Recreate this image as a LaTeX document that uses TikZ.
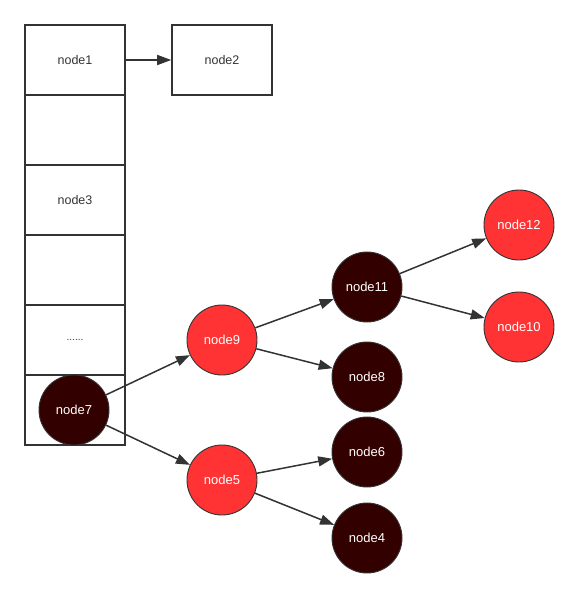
\documentclass[tikz,border=0pt]{standalone}
\usepackage{fontspec}
\setmainfont{Liberation Sans}
\usetikzlibrary{arrows.meta}
\definecolor{ln}{HTML}{333333}
\definecolor{redf}{HTML}{FF3333}
\definecolor{darkf}{HTML}{330000}
\begin{document}
\begin{tikzpicture}[x=1pt,y=-1pt,
  cell/.style={draw=ln,line width=1.6pt,minimum width=100pt,minimum height=70pt,inner sep=0pt,anchor=center,text=ln,font=\fontsize{12.5}{14}\selectfont},
  rednode/.style={circle,draw=ln,line width=0.9pt,fill=redf,minimum size=70pt,inner sep=0pt,text=white,font=\fontsize{13}{14}\selectfont},
  darknode/.style={circle,draw=ln,line width=0.9pt,fill=darkf,minimum size=70pt,inner sep=0pt,text=white,font=\fontsize{13}{14}\selectfont},
  edge/.style={draw=ln,line width=1.5pt,-{Triangle[length=14pt,width=10pt]}}]
\useasboundingbox (0,0) rectangle (579,597);
\node[cell] (c1) at (75,60) {node1};
\node[cell] (c2) at (75,130) {};
\node[cell] (c3) at (75,200) {node3};
\node[cell] (c4) at (75,270) {};
\node[cell] (c5) at (75,340) {{\fontsize{10}{12}\selectfont ......}};
\node[cell] (c6) at (75,410) {};
\node[cell] (n2) at (222,60) {node2};
\draw[edge] (c1) -- (n2);
\node[darknode] (n7) at (74,410) {node7};
\node[rednode] (n9) at (222,340) {node9};
\node[rednode] (n5) at (222,480) {node5};
\node[darknode] (n11) at (367,287) {node11};
\node[darknode] (n8) at (367,377) {node8};
\node[darknode] (n6) at (367,452) {node6};
\node[darknode] (n4) at (367,538) {node4};
\node[rednode] (n12) at (519,225) {node12};
\node[rednode] (n10) at (519,327) {node10};
\draw[edge] (n7) -- (n9);
\draw[edge] (n7) -- (n5);
\draw[edge] (n9) -- (n11);
\draw[edge] (n9) -- (n8);
\draw[edge] (n5) -- (n6);
\draw[edge] (n5) -- (n4);
\draw[edge] (n11) -- (n12);
\draw[edge] (n11) -- (n10);
\end{tikzpicture}
\end{document}
